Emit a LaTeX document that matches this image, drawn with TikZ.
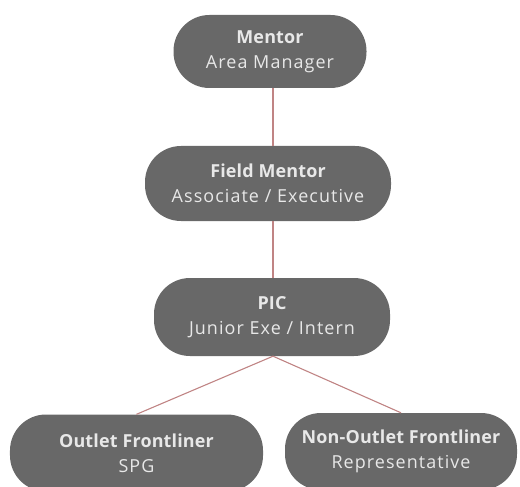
\documentclass[tikz,border=0pt]{standalone}
\usepackage{fontspec}
\setmainfont[LetterSpace=6,BoldFeatures={LetterSpace=1}]{Open Sans}
\definecolor{boxgray}{RGB}{104,104,104}
\definecolor{txtgray}{RGB}{232,232,232}
\definecolor{linkpink}{RGB}{192,132,132}
\tikzset{
  pill/.style={draw=none, fill=boxgray, text=txtgray, align=center, inner sep=0pt,
    rounded corners=36bp, font=\fontsize{18}{25}\selectfont},
  link/.style={draw=linkpink, line width=1.1bp}
}
\begin{document}
\begin{tikzpicture}[x=1bp,y=-1bp]
\useasboundingbox (0,0) rectangle (520,487);
\clip (0,0) rectangle (520,487);
\node[pill, minimum width=193bp, minimum height=73bp] (mentor) at (270,51.5)
  {{\bfseries Mentor}\\Area Manager};
\node[pill, minimum width=246bp, minimum height=75bp] (field) at (268,183.5)
  {{\bfseries Field Mentor}\\Associate / Executive};
\node[pill, minimum width=236bp, minimum height=78bp] (pic) at (272,317)
  {{\bfseries PIC}\\Junior Exe / Intern};
\node[pill, minimum width=253bp, minimum height=77bp] (outlet) at (136.5,453)
  {{\bfseries Outlet Frontliner}\\SPG};
\node[pill, minimum width=232bp, minimum height=77bp] (nonoutlet) at (401,451.5)
  {{\bfseries Non-Outlet Frontliner}\\Representative};
\draw[link] (mentor.south -| 273,0) -- (field.north -| 273,0);
\draw[link] (field.south -| 273,0) -- (pic.north -| 273,0);
\draw[link] (pic.south -| 273,0) -- (outlet.north);
\draw[link] (pic.south -| 273,0) -- (nonoutlet.north);
\end{tikzpicture}
\end{document}
